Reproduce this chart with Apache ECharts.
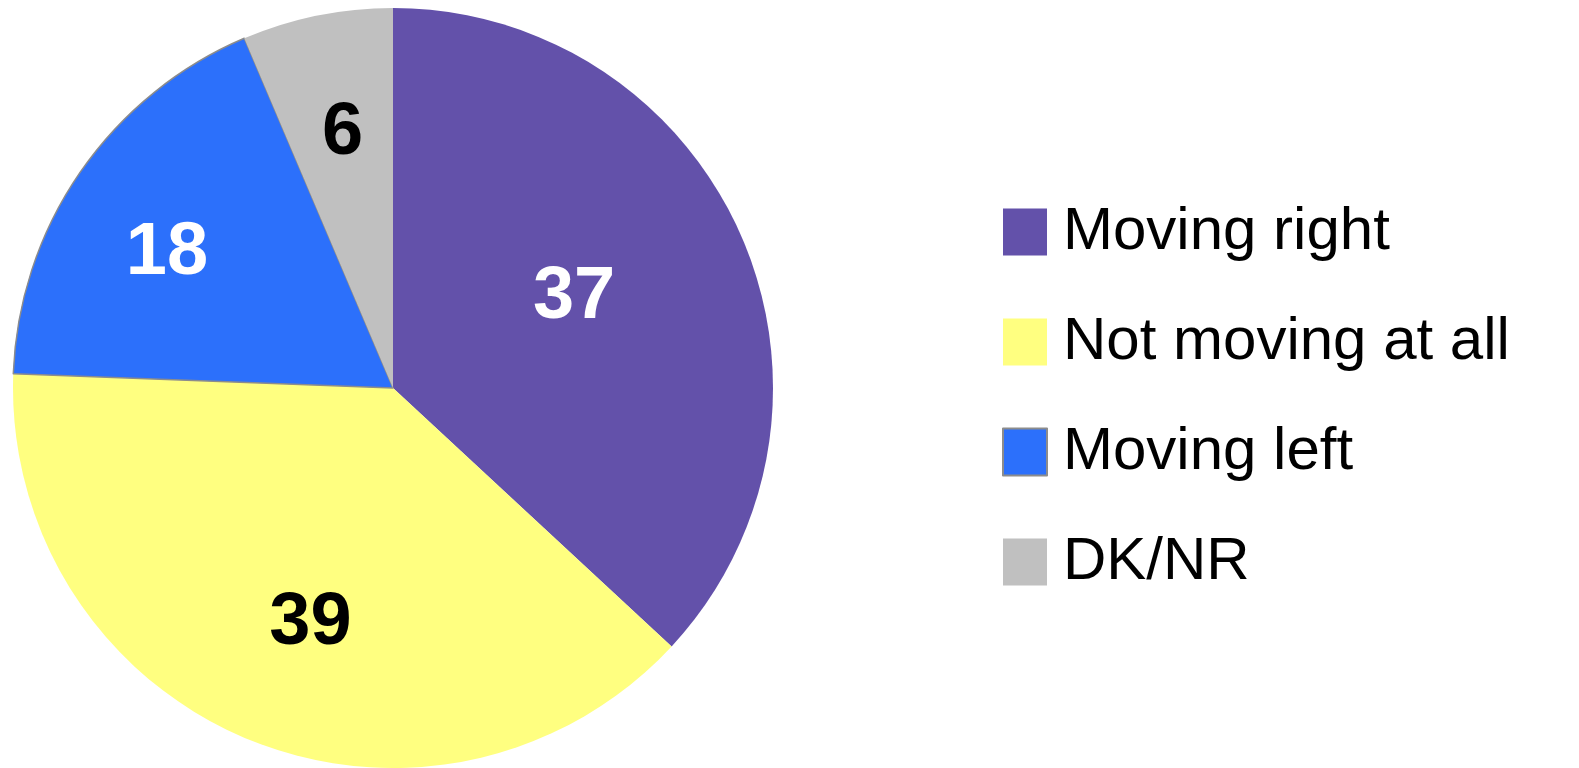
<!DOCTYPE html>
<html>
<head>
<meta charset="utf-8">
<script src="https://cdn.jsdelivr.net/npm/echarts@6/dist/echarts.min.js"></script>
<style>
html, body { margin: 0; padding: 0; background: #fff; }
#chart { width: 1579px; height: 768px; }
</style>
</head>
<body>
<div id="chart"></div>
<script>
var categories = ['Moving right', 'Not moving at all', 'Moving left', 'DK/NR'];
// slice sizes; labels show them rounded
var values = [36.9, 38.7, 18.0, 6.4];

var colors = ['#6351AA', '#FFFF80', '#2C70FB', '#C0C0C0'];
var labelColors = ['#fff', '#000', '#fff', '#000'];
var labelRadius = [0.54, 0.65, 0.70, 0.69];
var labelNudge = [[-7, -8], [12, 7], [-7, 16], [2, 3]];

var cx = 393, cy = 388, R = 380;

var myChart = echarts.init(document.getElementById('chart'));

var option = {
	animation : false,
	legend : {
		orient : 'vertical',
		left : 997,
		top : 197,
		itemWidth : 44,
		itemHeight : 47,
		itemGap : 50,
		icon : 'rect',
		data : categories,
		textStyle : {
			color : '#000',
			fontSize : 60,
			lineHeight : 47,
			fontFamily : '"Liberation Sans", Arial, sans-serif',
			padding : [0, 0, 0, 11]
		}
	},
	series : [
		{
			type : 'pie',
			center : [cx, cy],
			radius : [0, R],
			startAngle : 90,
			clockwise : true,
			label : {
				show : true,
				position : 'inside',
				fontSize : 74,
				fontWeight : 'bold',
				fontFamily : '"Liberation Sans", Arial, sans-serif',
				formatter : function(p){ return Math.round(p.value); }
			},
			labelLine : { show : false },
			emphasis : { disabled : true },
			labelLayout : function(params){
				var i = params.dataIndex;
				var r = params.labelRect;
				var x = r.x + r.width / 2, y = r.y + r.height / 2;
				var dx = x - cx, dy = y - cy;
				var d = Math.sqrt(dx * dx + dy * dy);
				var k = labelRadius[i] * R / d;
				return {
					x : cx + dx * k + labelNudge[i][0],
					y : cy + dy * k + labelNudge[i][1],
					align : 'center',
					verticalAlign : 'middle'
				};
			},
			data : categories.map(function(name, i){
				return {
					name : name,
					value : values[i],
					itemStyle : {
						color : colors[i],
						borderColor : i === 2 ? '#8C8C8C' : colors[i],
						borderWidth : i === 2 ? 1.5 : 0
					},
					label : { color : labelColors[i] }
				};
			})
		}
	]
};

myChart.setOption(option);
</script>
</body>
</html>
